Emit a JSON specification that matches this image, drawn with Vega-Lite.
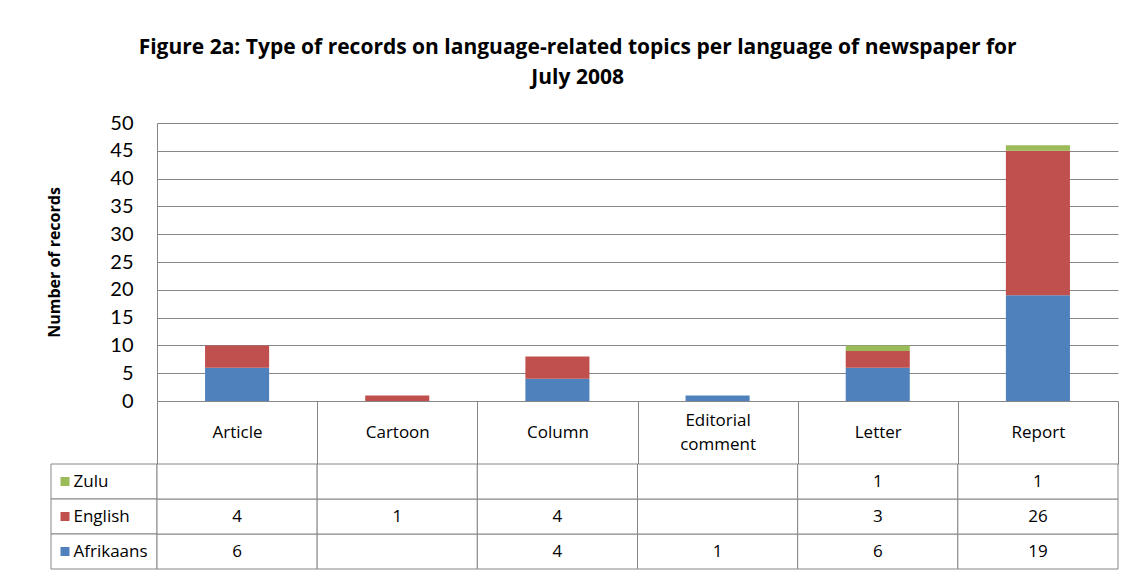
{
  "$schema": "https://vega.github.io/schema/vega-lite/v6.json",
  "background": "white",
  "padding": {"left": 46, "top": 37, "right": 5, "bottom": 5},
  "title": {
    "text": ["Figure 2a: Type of records on language-related topics per language of newspaper for", "July 2008"],
    "fontSize": 21, "font": "Open Sans", "fontWeight": "bold", "anchor": "middle", "lineHeight": 30, "offset": 25, "color": "black", "dx": -5
  },
  "datasets": {
    "records": [
      {"type": "Article", "language": "Afrikaans", "count": 6},
      {"type": "Article", "language": "English", "count": 4},
      {"type": "Article", "language": "Zulu", "count": null},
      {"type": "Cartoon", "language": "Afrikaans", "count": null},
      {"type": "Cartoon", "language": "English", "count": 1},
      {"type": "Cartoon", "language": "Zulu", "count": null},
      {"type": "Column", "language": "Afrikaans", "count": 4},
      {"type": "Column", "language": "English", "count": 4},
      {"type": "Column", "language": "Zulu", "count": null},
      {"type": "Editorial comment", "language": "Afrikaans", "count": 1},
      {"type": "Editorial comment", "language": "English", "count": null},
      {"type": "Editorial comment", "language": "Zulu", "count": null},
      {"type": "Letter", "language": "Afrikaans", "count": 6},
      {"type": "Letter", "language": "English", "count": 3},
      {"type": "Letter", "language": "Zulu", "count": 1},
      {"type": "Report", "language": "Afrikaans", "count": 19},
      {"type": "Report", "language": "English", "count": 26},
      {"type": "Report", "language": "Zulu", "count": 1}
    ],
    "languages": [
      {"language": "Zulu"},
      {"language": "English"},
      {"language": "Afrikaans"}
    ]
  },
  "columns": 2,
  "spacing": {"row": 63, "column": 0},
  "bounds": "flush",
  "concat": [
    {
      "width": 106, "height": 278,
      "data": {"values": []},
      "mark": "point"
    },
    {
      "width": 961, "height": 278,
      "data": {"name": "records"},
      "transform": [{"filter": "datum.count != null"}],
      "mark": {"type": "bar", "width": {"band": 0.4}},
      "encoding": {
        "x": {
          "field": "type", "type": "nominal",
          "sort": ["Article", "Cartoon", "Column", "Editorial comment", "Letter", "Report"],
          "scale": {"paddingInner": 0, "paddingOuter": 0},
          "axis": {
            "title": null, "labelAngle": 0, "tickBand": "extent", "tickSize": 63, "tickColor": "#868686",
            "domain": false,
            "labelPadding": {"condition": {"test": "datum.value === 'Editorial comment'", "value": -44}, "value": -32},
            "labelBaseline": "middle", "labelFontSize": 17, "labelFont": "Open Sans",
            "labelLineHeight": 24, "labelLimit": 200,
            "labelExpr": "datum.label === 'Editorial comment' ? ['Editorial', 'comment'] : datum.label"
          }
        },
        "y": {
          "field": "count", "type": "quantitative", "stack": "zero",
          "scale": {"domain": [0, 50]},
          "axis": {
            "title": "Number of records", "values": [0, 5, 10, 15, 20, 25, 30, 35, 40, 45, 50],
            "grid": true, "gridColor": "#868686", "domainColor": "#868686", "ticks": false,
            "labelPadding": 24, "labelFontSize": 20, "titleFontSize": 16, "titleFontWeight": "bold",
            "titleFont": "Open Sans", "titlePadding": 47
          }
        },
        "color": {
          "field": "language", "type": "nominal",
          "scale": {"domain": ["Afrikaans", "English", "Zulu"], "range": ["#4F81BD", "#C0504D", "#9BBB59"]},
          "legend": null
        },
        "order": {"field": "language", "sort": "ascending"}
      }
    },
    {
      "width": 106, "height": 105,
      "data": {"name": "languages"},
      "mark": {"type": "rect", "fill": "white", "stroke": "#868686"},
      "encoding": {
        "y": {
          "field": "language", "type": "nominal", "sort": ["Zulu", "English", "Afrikaans"],
          "scale": {"paddingInner": 0, "paddingOuter": 0}, "axis": null
        }
      }
    },
    {
      "width": 961, "height": 105,
      "data": {"name": "records"},
      "encoding": {
        "x": {
          "field": "type", "type": "nominal",
          "sort": ["Article", "Cartoon", "Column", "Editorial comment", "Letter", "Report"],
          "scale": {"paddingInner": 0, "paddingOuter": 0}, "axis": null
        },
        "y": {
          "field": "language", "type": "nominal", "sort": ["Zulu", "English", "Afrikaans"],
          "scale": {"paddingInner": 0, "paddingOuter": 0},
          "axis": {
            "title": null, "domain": false, "grid": false, "offset": 88,
            "tickSize": 9, "tickWidth": 9, "tickCap": "butt",
            "tickColor": {
              "condition": [
                {"test": "datum.value === 'Zulu'", "value": "#9BBB59"},
                {"test": "datum.value === 'English'", "value": "#C0504D"}
              ],
              "value": "#4F81BD"
            },
            "labelAlign": "left", "labelPadding": -13, "labelFontSize": 17, "labelFont": "Open Sans", "labelColor": "black"
          }
        }
      },
      "layer": [
        {"mark": {"type": "rect", "fill": "white", "stroke": "#868686"}},
        {
          "transform": [{"filter": "datum.count != null"}],
          "mark": {"type": "text", "fontSize": 17, "font": "Open Sans", "color": "black"},
          "encoding": {"text": {"field": "count", "type": "quantitative"}}
        }
      ]
    }
  ],
  "config": {
    "font": "Lato",
    "view": {"stroke": null},
    "axis": {"labelColor": "black", "titleColor": "black", "labelFont": "Lato", "titleFont": "Lato"}
  }
}
